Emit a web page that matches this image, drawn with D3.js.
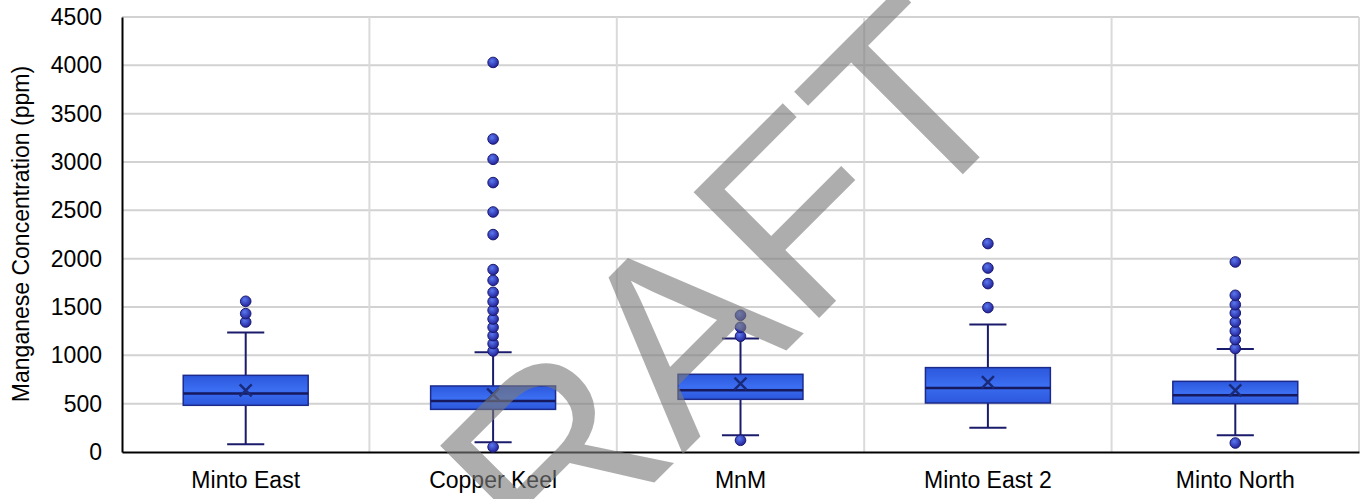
<!DOCTYPE html>
<html><head><meta charset="utf-8">
<script src="https://cdn.jsdelivr.net/npm/d3@7"></script>
<style>body{margin:0;background:#fff;} svg{display:block;}</style>
</head><body>
<svg id="chart" width="1367" height="499"></svg>
<script>
const categories = ["Minto East","Copper Keel","MnM","Minto East 2","Minto North"];
const lowWhisker = [80, 100, 173, 252, 173];
const q1 = [483, 441, 545, 507, 500];
const median = [604, 528, 638, 662, 587];
const q3 = [793, 683, 804, 873, 731];
const highWhisker = [1235, 1031, 1173, 1318, 1066];
const mean = [638, 595, 707, 724, 638];
const outliers = [
  [1345, 1432, 1559],
  [52, 1045, 1121, 1204, 1290, 1376, 1466, 1556, 1652, 1776, 1887, 2249, 2483, 2787, 3028, 3238, 4030],
  [121, 1197, 1290, 1414],
  [1494, 1742, 1903, 2156],
  [93, 1070, 1163, 1252, 1345, 1438, 1524, 1621, 1966]
];
const yTicks = [0,500,1000,1500,2000,2500,3000,3500,4000,4500];
const yTitle = "Manganese Concentration (ppm)";
const watermark = "DRAFT";

const svg = d3.select("#chart");
const mLeft = 122, mRight = 1359, mTop = 17, mBottom = 452;
const FONT = "Liberation Sans, Arial, sans-serif";
const x = d3.scaleBand().domain(categories).range([mLeft, mRight]).padding(0);
const y = d3.scaleLinear().domain([0, 4500]).range([mBottom, mTop]);

const defs = svg.append("defs");
const boxGrad = defs.append("linearGradient").attr("id","boxg").attr("x1",0).attr("y1",0).attr("x2",0).attr("y2",1);
boxGrad.append("stop").attr("offset","0%").attr("stop-color","#2c57dc");
boxGrad.append("stop").attr("offset","50%").attr("stop-color","#3b6ef2");
boxGrad.append("stop").attr("offset","100%").attr("stop-color","#2c57dc");
const dotGrad = defs.append("radialGradient").attr("id","dotg").attr("cx","40%").attr("cy","35%").attr("r","65%");
dotGrad.append("stop").attr("offset","0%").attr("stop-color","#5a78f0");
dotGrad.append("stop").attr("offset","100%").attr("stop-color","#23239a");

// grid
const g = svg.append("g");
g.selectAll(".hg").data(yTicks.filter(d=>d>0)).join("line")
  .attr("x1", mLeft).attr("x2", mRight).attr("y1", d=>y(d)).attr("y2", d=>y(d))
  .attr("stroke","#d2d2d2").attr("stroke-width",2);
const bounds = categories.map(c => x(c)).slice(1).concat([mRight]);
g.selectAll(".vg").data(bounds).join("line")
  .attr("x1", d=>d).attr("x2", d=>d).attr("y1", mTop).attr("y2", mBottom)
  .attr("stroke","#dadada").attr("stroke-width",2);

// axes
const yAxis = d3.axisLeft(y).tickValues(yTicks).tickFormat(d3.format("d")).tickSize(0).tickPadding(20);
const ya = svg.append("g").attr("transform",`translate(${mLeft},0)`).call(yAxis);
ya.select(".domain").attr("stroke","#000").attr("stroke-width",2);
ya.selectAll("text").attr("font-family",FONT).attr("font-size",23).attr("fill","#000");

const xAxis = d3.axisBottom(x).tickSize(0).tickPadding(20);
const xa = svg.append("g").attr("transform",`translate(0,${mBottom})`).call(xAxis);
xa.select(".domain").attr("stroke","#000").attr("stroke-width",2);
xa.selectAll("text").attr("font-family",FONT).attr("font-size",23).attr("fill","#000");

svg.append("text").attr("transform",`translate(29,234) rotate(-90)`)
  .attr("text-anchor","middle").attr("font-family",FONT)
  .attr("font-size",23).attr("fill","#000").text(yTitle);

// boxes
const bw = x.bandwidth()*0.505, cw = x.bandwidth()*0.15;
const navy = "#1b1b6b";
categories.forEach((c,i) => {
  const cx = x(c) + x.bandwidth()/2;
  const bg = svg.append("g");
  bg.append("line").attr("x1",cx).attr("x2",cx).attr("y1",y(highWhisker[i])).attr("y2",y(q3[i])).attr("stroke",navy).attr("stroke-width",2);
  bg.append("line").attr("x1",cx).attr("x2",cx).attr("y1",y(q1[i])).attr("y2",y(lowWhisker[i])).attr("stroke",navy).attr("stroke-width",2);
  bg.append("line").attr("x1",cx-cw/2).attr("x2",cx+cw/2).attr("y1",y(highWhisker[i])).attr("y2",y(highWhisker[i])).attr("stroke",navy).attr("stroke-width",2);
  bg.append("line").attr("x1",cx-cw/2).attr("x2",cx+cw/2).attr("y1",y(lowWhisker[i])).attr("y2",y(lowWhisker[i])).attr("stroke",navy).attr("stroke-width",2);
  bg.append("rect").attr("x",cx-bw/2).attr("width",bw).attr("y",y(q3[i])).attr("height",y(q1[i])-y(q3[i]))
    .attr("fill","url(#boxg)").attr("stroke","#1c2a8c").attr("stroke-width",1.5);
  bg.append("line").attr("x1",cx-bw/2).attr("x2",cx+bw/2).attr("y1",y(median[i])).attr("y2",y(median[i])).attr("stroke","#16195e").attr("stroke-width",2.5);
  const my = y(mean[i]), s = 6;
  bg.append("path").attr("d",`M${cx-s},${my-s}L${cx+s},${my+s}M${cx+s},${my-s}L${cx-s},${my+s}`).attr("stroke","#1a2a7a").attr("stroke-width",2.5);
  bg.selectAll("circle").data(outliers[i]).join("circle")
    .attr("cx",cx).attr("cy",d=>y(d)).attr("r",5.3)
    .attr("fill","url(#dotg)").attr("stroke","#1a1a70").attr("stroke-width",1);
});

// watermark
svg.append("text").attr("transform","translate(723,414) rotate(-45)")
  .attr("text-anchor","middle").attr("font-family",FONT)
  .attr("font-size",258).attr("fill","#7a7a7a").attr("fill-opacity",0.62).text(watermark);
</script>
</body></html>
